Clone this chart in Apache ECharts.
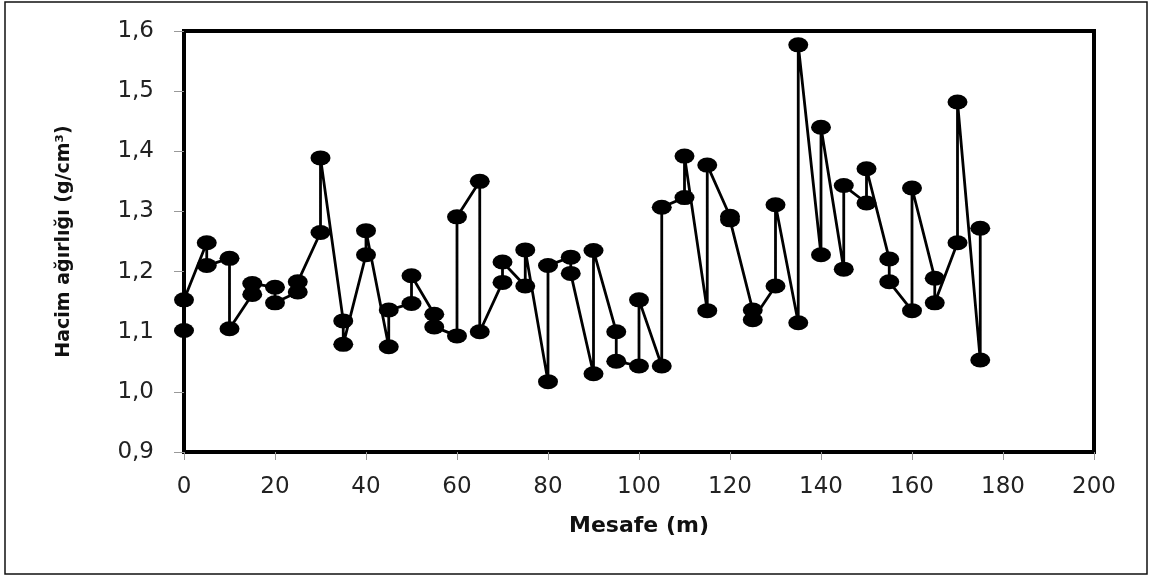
<!DOCTYPE html>
<html>
<head>
<meta charset="utf-8">
<script src="https://cdn.jsdelivr.net/npm/echarts@6/dist/echarts.min.js"></script>
<style>html,body{margin:0;padding:0;background:#fff;}#c{width:1153px;height:576px;}</style>
</head>
<body>
<div id="c"></div>
<script>
// Distance along the profile (m)
const positions = [0,5,10,15,20,25,30,35,40,45,50,55,60,65,70,75,80,85,90,95,100,105,110,115,120,125,130,135,140,145,150,155,160,165,170,175];
// First and second reading at each position (in line order)
const firstReading  = [1.102,1.248,1.222,1.162,1.174,1.166,1.265,1.118,1.228,1.075,1.147,1.129,1.093,1.350,1.182,1.176,1.017,1.224,1.030,1.100,1.043,1.043,1.323,1.135,1.292,1.136,1.176,1.115,1.228,1.204,1.314,1.221,1.135,1.189,1.248,1.053];
const secondReading = [1.153,1.210,1.105,1.180,1.148,1.183,1.389,1.079,1.268,1.136,1.193,1.108,1.291,1.100,1.216,1.236,1.210,1.197,1.235,1.051,1.153,1.307,1.392,1.377,1.286,1.120,1.311,1.577,1.440,1.343,1.371,1.183,1.339,1.148,1.482,1.272];
const xTicks = {min:0, max:200, interval:20};
const yTicks = {min:0.9, max:1.6, interval:0.1};

const seriesData = [];
positions.forEach((p, i) => {
  seriesData.push([p, firstReading[i]]);
  seriesData.push([p, secondReading[i]]);
});

const chart = echarts.init(document.getElementById('c'), null, {renderer:'canvas'});
const FONT = 'DejaVu Sans';
chart.setOption({
  animation: false,
  backgroundColor: '#fff',
  graphic: [{
    type: 'rect', silent: true,
    shape: {x: 5, y: 2, width: 1142, height: 572},
    style: {fill: 'none', stroke: '#111', lineWidth: 1.5}
  }],
  grid: {left: 184, right: 59, top: 31, bottom: 124, show: true, borderColor: '#000', borderWidth: 4, backgroundColor: 'transparent'},
  xAxis: {
    type: 'value', min: xTicks.min, max: xTicks.max, interval: xTicks.interval,
    name: 'Mesafe (m)', nameLocation: 'middle', nameGap: 63,
    nameTextStyle: {fontFamily: FONT, fontWeight: 'bold', fontSize: 22, color: '#111'},
    axisLine: {show: true, lineStyle: {color: '#000', width: 3}},
    axisTick: {show: true, length: 8, lineStyle: {color: '#999', width: 1}},
    axisLabel: {fontFamily: FONT, fontSize: 23, color: '#222', margin: 24},
    splitLine: {show: false}
  },
  yAxis: {
    type: 'value', min: yTicks.min, max: yTicks.max, interval: yTicks.interval,
    name: 'Hacim ağırlığı (g/cm³)', nameLocation: 'middle', nameGap: 110,
    nameTextStyle: {fontFamily: FONT, fontWeight: 'bold', fontSize: 19, color: '#111'},
    axisLine: {show: true, lineStyle: {color: '#000', width: 3}},
    axisTick: {show: true, length: 10, lineStyle: {color: '#999', width: 1}},
    axisLabel: {fontFamily: FONT, fontSize: 23, color: '#222', margin: 30,
      formatter: v => v.toFixed(1).replace('.', ',')},
    splitLine: {show: false}
  },
  series: [{
    type: 'line',
    data: seriesData,
    symbol: 'circle',
    symbolSize: [20, 15],
    showAllSymbol: true,
    itemStyle: {color: '#000'},
    lineStyle: {color: '#000', width: 2.8},
    z: 5
  }]
});
</script>
</body>
</html>
